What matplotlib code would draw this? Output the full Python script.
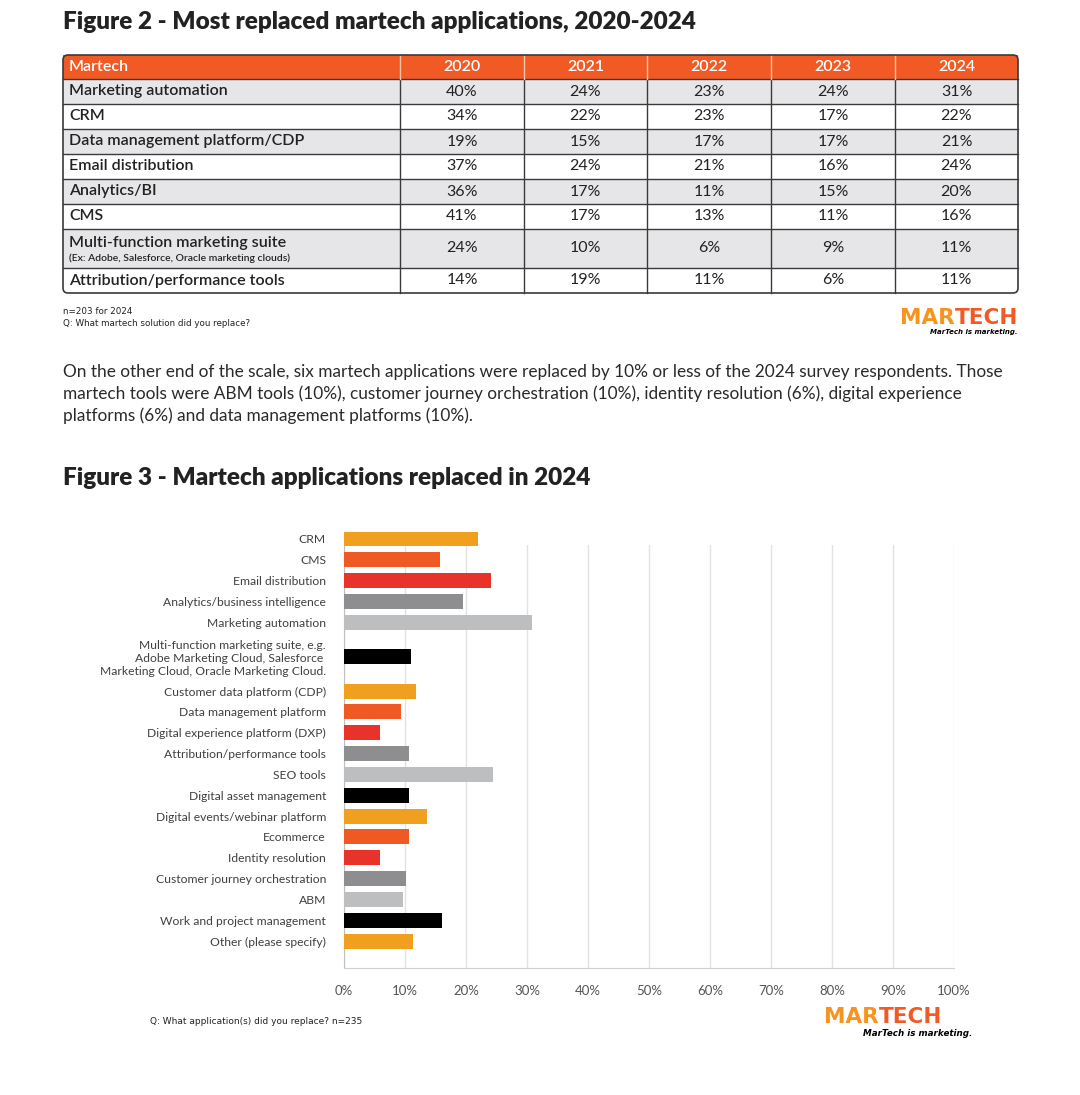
import numpy as np
import matplotlib
matplotlib.use("Agg")
import matplotlib.pyplot as plt
from matplotlib.patches import Rectangle, FancyBboxPatch
from matplotlib.ticker import FuncFormatter, MultipleLocator

# ---- Figure 2 table data ----
years = ["2020", "2021", "2022", "2023", "2024"]
table_rows = ["Marketing automation", "CRM", "Data management platform/CDP",
              "Email distribution", "Analytics/BI", "CMS",
              "Multi-function marketing suite", "Attribution/performance tools"]
table_sub = {"Multi-function marketing suite": "(Ex: Adobe, Salesforce, Oracle marketing clouds)"}
table_vals = [
    [40, 24, 23, 24, 31],
    [34, 22, 23, 17, 22],
    [19, 15, 17, 17, 21],
    [37, 24, 21, 16, 24],
    [36, 17, 11, 15, 20],
    [41, 17, 13, 11, 16],
    [24, 10, 6, 9, 11],
    [14, 19, 11, 6, 11],
]

# ---- Figure 3 bar data ----
apps = ["CRM", "CMS", "Email distribution", "Analytics/business intelligence",
        "Marketing automation",
        "Multi-function marketing suite, e.g.\nAdobe Marketing Cloud, Salesforce \nMarketing Cloud, Oracle Marketing Cloud.",
        "Customer data platform (CDP)", "Data management platform",
        "Digital experience platform (DXP)", "Attribution/performance tools",
        "SEO tools", "Digital asset management", "Digital events/webinar platform",
        "Ecommerce", "Identity resolution", "Customer journey orchestration",
        "ABM", "Work and project management", "Other (please specify)"]
shares = [22.0, 15.7, 24.1, 19.5, 30.8, 11.0, 11.8, 9.3, 5.9, 10.7,
          24.4, 10.7, 13.6, 10.7, 5.9, 10.2, 9.7, 16.1, 11.3]

ORANGE = "#F15A24"
palette = ["#F0A01E", "#EF5A24", "#E8332A", "#8E8E90", "#BDBEC0", "#000000"]
TXT = "#222222"
LBL = "#404040"

W, H = 1080, 1095
fig = plt.figure(figsize=(W / 100, H / 100), dpi=100)
fig.patch.set_facecolor("white")

# canvas axes in pixel units for titles, table, notes
cv = fig.add_axes([0, 0, 1, 1])
cv.set_xlim(0, W)
cv.set_ylim(H, 0)
cv.axis("off")

cv.text(63, 22, "Figure 2 - Most replaced martech applications, 2020-2024",
        fontsize=17.5, fontweight="heavy", family="Lato", color=TXT,
        va="center", ha="left")

# table
col_edges = [63, 400, 524, 647, 771, 895, 1018]
row_h = [24] + [25] * 6 + [39, 25]
row_edges = np.concatenate([[55], 55 + np.cumsum(row_h)])
tfont = "Lato"

for i in range(len(row_h)):
    y0, y1 = row_edges[i], row_edges[i + 1]
    if i == 0:
        fc = ORANGE
    else:
        fc = "#E6E6E8" if i % 2 == 1 else "white"
    cv.add_patch(Rectangle((col_edges[0], y0), col_edges[-1] - col_edges[0], y1 - y0,
                           facecolor=fc, edgecolor="none", zorder=1))
    ym = (y0 + y1) / 2
    if i == 0:
        cv.text(col_edges[0] + 6, ym, "Martech", color="white", fontsize=11.5,
                family=tfont, fontweight="semibold", va="center", ha="left", zorder=3)
        for j, yr in enumerate(years):
            cv.text((col_edges[j + 1] + col_edges[j + 2]) / 2, ym, yr, color="white",
                    fontsize=11.5, family=tfont, fontweight="semibold",
                    va="center", ha="center", zorder=3)
        continue
    name = table_rows[i - 1]
    if name in table_sub:
        cv.text(col_edges[0] + 6, ym - 6, name, color=TXT, fontsize=11.5, family=tfont,
                fontweight="semibold", va="center", ha="left", zorder=3)
        cv.text(col_edges[0] + 6, ym + 10, table_sub[name], color=TXT, fontsize=7.5,
                family=tfont, fontweight="semibold", va="center", ha="left", zorder=3)
    else:
        cv.text(col_edges[0] + 6, ym, name, color=TXT, fontsize=11.5, family=tfont,
                fontweight="semibold", va="center", ha="left", zorder=3)
    for j, v in enumerate(table_vals[i - 1]):
        cv.text((col_edges[j + 1] + col_edges[j + 2]) / 2, ym, f"{v}%", color=TXT,
                fontsize=11.5, family=tfont, va="center", ha="center", zorder=3)

# grid lines of the table
for ye in row_edges[1:-1]:
    cv.plot([col_edges[0], col_edges[-1]], [ye, ye], color="#3a3a3a", lw=1.0, zorder=2)
for xe in col_edges[1:-1]:
    cv.plot([xe, xe], [row_edges[1], row_edges[-1]], color="#3a3a3a", lw=1.0, zorder=2)
    cv.plot([xe, xe], [row_edges[0], row_edges[1]], color="#F9C3A4", lw=1.0, zorder=2)
cv.add_patch(FancyBboxPatch((col_edges[0], row_edges[0]), col_edges[-1] - col_edges[0],
                            row_edges[-1] - row_edges[0],
                            boxstyle="round,pad=0,rounding_size=5",
                            facecolor="none", edgecolor="#3a3a3a", lw=1.2, zorder=4))

cv.text(63, 312, "n=203 for 2024", fontsize=6.3, color=TXT, va="center")
cv.text(63, 323, "Q: What martech solution did you replace?", fontsize=6.3, color=TXT,
        va="center")


def logo(x_right, y_mid, size, tag_right, tag_y, tag_size):
    tech = cv.text(x_right, y_mid, "TECH", fontsize=size, fontweight="heavy",
                   color=ORANGE, va="center", ha="right", family="DejaVu Sans")
    cv.annotate("MAR", xy=(0, 0.5), xycoords=tech, fontsize=size, fontweight="heavy",
                color="#F7941D", va="center", ha="right", family="DejaVu Sans")
    cv.text(tag_right, tag_y, "MarTech is marketing.", fontsize=tag_size,
            fontweight="bold", style="italic", color="black", va="center", ha="right")


logo(1018, 318, 15.5, 1018, 332, 5.0)
logo(942, 1017, 15.5, 972, 1034, 6.3)

para = ["On the other end of the scale, six martech applications were replaced by 10% or less of the 2024 survey respondents. Those",
        "martech tools were ABM tools (10%), customer journey orchestration (10%), identity resolution (6%), digital experience",
        "platforms (6%) and data management platforms (10%)."]
for k, line in enumerate(para):
    cv.text(63, 372 + 22 * k, line, fontsize=12.4, family="Lato", color="#2a2a2a",
            va="center", ha="left")

cv.text(63, 478, "Figure 3 - Martech applications replaced in 2024",
        fontsize=17.5, fontweight="heavy", family="Lato", color=TXT,
        va="center", ha="left")

cv.text(150, 1021, "Q: What application(s) did you replace? n=235", fontsize=6.5,
        color=TXT, va="center")

# ---- bar chart ----
span = [2.3 if "\n" in a else 1.0 for a in apps]
edges = np.concatenate([[0], np.cumsum(span)])
ypos = (edges[:-1] + edges[1:]) / 2 - 0.5
slot = 20.83
top_px, bot_px, first_px = 545, 968, 539
label_pad = 13
ax = fig.add_axes([344 / W, 1 - bot_px / H, (954 - 344) / W, (bot_px - top_px) / H])
colors = [palette[i % len(palette)] for i in range(len(apps))]
bars = ax.barh(ypos, shares, height=0.72, color=colors, zorder=3)
for b in bars:
    b.set_clip_on(False)
ax.set_yticks(ypos)
ax.set_yticklabels(apps, fontsize=8.7, family="Lato", color=LBL)
# limits after set_yticks, which would otherwise widen them
ax.set_ylim((bot_px - first_px) / slot, (top_px - first_px) / slot)
ax.set_xlim(0, 100)
ax.tick_params(axis="y", length=0, pad=label_pad)
ax.xaxis.set_major_locator(MultipleLocator(10))
ax.xaxis.set_major_formatter(FuncFormatter(lambda v, p: f"{v:.0f}%"))
ax.tick_params(axis="x", length=0, pad=12, labelsize=9.5, labelcolor="#555555")
for lab in ax.get_xticklabels():
    lab.set_family("Lato")
ax.grid(True, axis="x", color="#E2E2E2", lw=1)
ax.set_axisbelow(True)
for s in ["top", "right"]:
    ax.spines[s].set_visible(False)
ax.spines["left"].set_color("#BFBFBF")
ax.spines["bottom"].set_color("#D0D0D0")

# first row sits just above the plot area, so its tick label is dropped
ax.annotate(apps[0], xy=(0, ypos[0]), xycoords=ax.get_yaxis_transform(),
            xytext=(-label_pad, 0), textcoords="offset points", ha="right",
            va="center_baseline", fontsize=8.7, family="Lato", color=LBL,
            annotation_clip=False)

fig.savefig("out.png", dpi=100, facecolor="white")
